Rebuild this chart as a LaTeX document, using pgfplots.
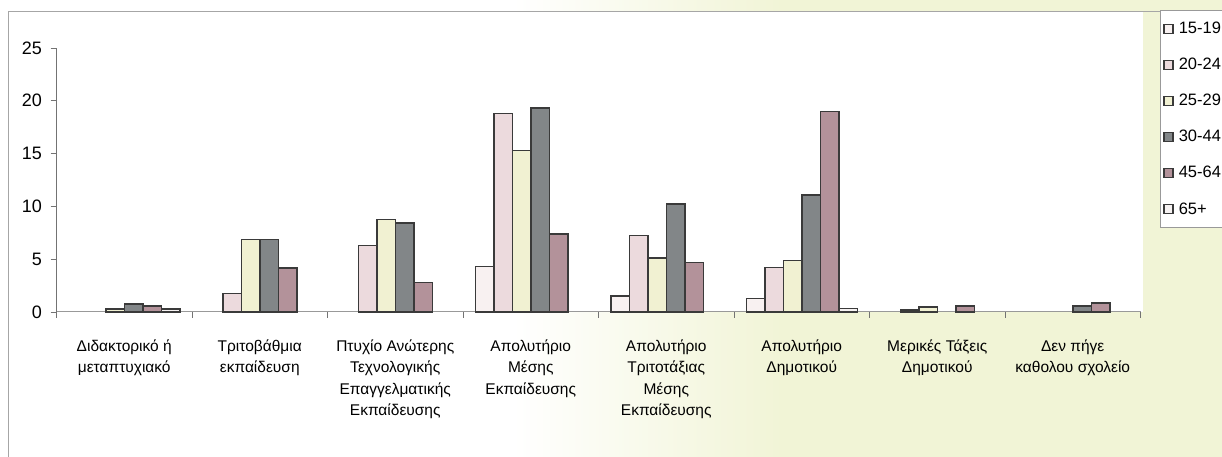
\documentclass[border=0pt]{standalone}
\usepackage{fontspec}
\setmainfont{Liberation Sans}
\usepackage{pgfplots}
\pgfplotsset{compat=1.18}
\definecolor{cA}{HTML}{F8F1F1}
\definecolor{cB}{HTML}{ECDADD}
\definecolor{cC}{HTML}{F1F1D2}
\definecolor{cD}{HTML}{828688}
\definecolor{cE}{HTML}{B3929A}
\definecolor{cF}{HTML}{F6F2F2}
\definecolor{bgY}{HTML}{F1F4D6}
\definecolor{edge}{HTML}{3A3A3A}
\pgfdeclarehorizontalshading{bgshade}{100bp}{color(0bp)=(white); color(46bp)=(white); color(57bp)=(bgY); color(100bp)=(bgY)}
\begin{document}
\begin{tikzpicture}
\path[use as bounding box] (0pt,0pt) rectangle (1222pt,457pt);
\clip (0pt,0pt) rectangle (1222pt,457pt);
\shade[shading=bgshade] (0pt,0pt) rectangle (1222pt,457pt);
\fill[white] (9pt,145pt) rectangle (1143pt,445pt);
\draw[gray!70, line width=1pt] (8.5pt,0pt) -- (8.5pt,445pt) -- (1160pt,445pt);
\begin{axis}[
  at={(56.5pt,145pt)}, anchor=south west,
  scale only axis, width=1084pt, height=264pt,
  xmin=-0.5, xmax=7.5, ymin=0, ymax=25,
  axis x line=bottom, axis y line=left,
  axis line style={-},
  x axis line style={draw=gray!80, line width=1pt},
  y axis line style={draw=gray!90!black, line width=1pt},
  clip=false,
  ybar=0pt, bar width=18.5pt,
  ytick={0,5,...,25},
  tick align=outside, major tick length=6pt,
  tick style={draw=gray!90!black, line width=0.8pt},
  /pgf/number format/assume math mode=true,
  yticklabel style={font=\fontsize{18}{18}\selectfont, xshift=-5pt},
  xtick={-0.5,0.5,...,7.5}, xticklabels={},
  extra x ticks={0,1,2,3,4,5,6,7},
  extra x tick style={major tick length=0pt},
  extra x tick labels={{Διδακτορικό ή\\μεταπτυχιακό},{Τριτοβάθμια\\εκπαίδευση},{Πτυχίο Ανώτερης\\Τεχνολογικής\\Επαγγελματικής\\Εκπαίδευσης},{Απολυτήριο\\Μέσης\\Εκπαίδευσης},{Απολυτήριο\\Τριτοτάξιας\\Μέσης\\Εκπαίδευσης},{Απολυτήριο\\Δημοτικού},{Μερικές Τάξεις\\Δημοτικού},{Δεν πήγε\\καθολου σχολείο}},
  xticklabel style={align=center, font=\fontsize{15.5}{21.5}\selectfont, anchor=north, yshift=-24pt},
  legend style={at={(1.018,1.144)}, anchor=north west, draw=gray!80, fill=white,
    font=\fontsize{16.5}{16.5}\selectfont, row sep=19pt, inner xsep=3pt, inner ysep=10pt,
    line width=0.8pt},
  legend cell align=left,
  legend image code/.code={\draw[#1, draw=edge, line width=1.2pt] (0pt,-4.5pt) rectangle (9pt,4.5pt); \path (12pt,0pt);},
]
\addplot[fill=cA, draw=edge, line width=1.5pt] coordinates {(3,4.3) (4,1.5) (5,1.3)};
\addplot[fill=cB, draw=edge, line width=1.5pt] coordinates {(1,1.75) (2,6.3) (3,18.8) (4,7.25) (5,4.2) (6,0.2)};
\addplot[fill=cC, draw=edge, line width=1.5pt] coordinates {(0,0.3) (1,6.85) (2,8.75) (3,15.3) (4,5.1) (5,4.9) (6,0.45)};
\addplot[fill=cD, draw=edge, line width=1.5pt] coordinates {(0,0.75) (1,6.85) (2,8.45) (3,19.3) (4,10.25) (5,11.1) (7,0.55)};
\addplot[fill=cE, draw=edge, line width=1.5pt] coordinates {(0,0.55) (1,4.15) (2,2.8) (3,7.4) (4,4.7) (5,19.0) (6,0.55) (7,0.85)};
\addplot[fill=cF, draw=edge, line width=1.5pt] coordinates {(0,0.3) (5,0.35)};
\legend{15-19,20-24,25-29,30-44,45-64,65+}
\end{axis}
\end{tikzpicture}
\end{document}
